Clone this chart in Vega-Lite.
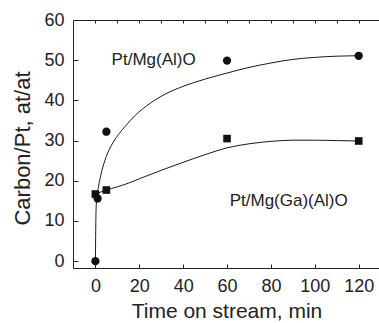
{
  "$schema": "https://vega.github.io/schema/vega-lite/v6.json",
  "width": 307,
  "height": 248,
  "autosize": "none",
  "padding": {"left": 73, "top": 20, "right": 0, "bottom": 55},
  "background": "white",
  "config": {
    "view": {"stroke": null},
    "font": "Liberation Sans",
    "axis": {
      "domainColor": "#222",
      "tickColor": "#222",
      "labelColor": "#222",
      "titleColor": "#222",
      "labelFont": "Liberation Sans",
      "titleFont": "Liberation Sans",
      "labelFontSize": 18,
      "titleFontSize": 21,
      "titleFontWeight": "normal",
      "grid": false,
      "domainWidth": 1,
      "tickWidth": 1
    }
  },
  "datasets": {
    "points": [
      {"series": "Pt/Mg(Al)O", "x": 0, "y": 0},
      {"series": "Pt/Mg(Al)O", "x": 1, "y": 15.6},
      {"series": "Pt/Mg(Al)O", "x": 5, "y": 32.2},
      {"series": "Pt/Mg(Al)O", "x": 60, "y": 49.9},
      {"series": "Pt/Mg(Al)O", "x": 120, "y": 51.1},
      {"series": "Pt/Mg(Ga)(Al)O", "x": 0, "y": 16.7},
      {"series": "Pt/Mg(Ga)(Al)O", "x": 5, "y": 17.7},
      {"series": "Pt/Mg(Ga)(Al)O", "x": 60, "y": 30.5},
      {"series": "Pt/Mg(Ga)(Al)O", "x": 120, "y": 29.9}
    ],
    "curves": [
      {"series": "Pt/Mg(Al)O", "x": 0, "y": 0},
      {"series": "Pt/Mg(Al)O", "x": 0.1, "y": 5},
      {"series": "Pt/Mg(Al)O", "x": 0.3, "y": 12.7},
      {"series": "Pt/Mg(Al)O", "x": 0.7, "y": 16},
      {"series": "Pt/Mg(Al)O", "x": 1.4, "y": 18.5},
      {"series": "Pt/Mg(Al)O", "x": 2.5, "y": 21.5},
      {"series": "Pt/Mg(Al)O", "x": 4.3, "y": 25},
      {"series": "Pt/Mg(Al)O", "x": 7, "y": 28.5},
      {"series": "Pt/Mg(Al)O", "x": 10.5, "y": 31.5},
      {"series": "Pt/Mg(Al)O", "x": 14, "y": 33.8},
      {"series": "Pt/Mg(Al)O", "x": 18, "y": 36.2},
      {"series": "Pt/Mg(Al)O", "x": 25, "y": 39.3},
      {"series": "Pt/Mg(Al)O", "x": 32, "y": 41.6},
      {"series": "Pt/Mg(Al)O", "x": 40, "y": 43.5},
      {"series": "Pt/Mg(Al)O", "x": 50, "y": 45.3},
      {"series": "Pt/Mg(Al)O", "x": 60, "y": 46.8},
      {"series": "Pt/Mg(Al)O", "x": 70, "y": 48.2},
      {"series": "Pt/Mg(Al)O", "x": 80, "y": 49.3},
      {"series": "Pt/Mg(Al)O", "x": 90, "y": 50.2},
      {"series": "Pt/Mg(Al)O", "x": 100, "y": 50.7},
      {"series": "Pt/Mg(Al)O", "x": 110, "y": 51},
      {"series": "Pt/Mg(Al)O", "x": 120, "y": 51.1},
      {"series": "Pt/Mg(Ga)(Al)O", "x": 0, "y": 16.7},
      {"series": "Pt/Mg(Ga)(Al)O", "x": 5, "y": 17.7},
      {"series": "Pt/Mg(Ga)(Al)O", "x": 10, "y": 18.5},
      {"series": "Pt/Mg(Ga)(Al)O", "x": 15, "y": 19.4},
      {"series": "Pt/Mg(Ga)(Al)O", "x": 20, "y": 20.5},
      {"series": "Pt/Mg(Ga)(Al)O", "x": 30, "y": 22.6},
      {"series": "Pt/Mg(Ga)(Al)O", "x": 40, "y": 24.6},
      {"series": "Pt/Mg(Ga)(Al)O", "x": 50, "y": 26.5},
      {"series": "Pt/Mg(Ga)(Al)O", "x": 60, "y": 28.2},
      {"series": "Pt/Mg(Ga)(Al)O", "x": 70, "y": 29.2},
      {"series": "Pt/Mg(Ga)(Al)O", "x": 80, "y": 29.8},
      {"series": "Pt/Mg(Ga)(Al)O", "x": 90, "y": 30.1},
      {"series": "Pt/Mg(Ga)(Al)O", "x": 100, "y": 30.1},
      {"series": "Pt/Mg(Ga)(Al)O", "x": 110, "y": 30},
      {"series": "Pt/Mg(Ga)(Al)O", "x": 120, "y": 29.9}
    ],
    "labels": [
      {"text": "Pt/Mg(Al)O", "x": 7.4, "y": 48.8},
      {"text": "Pt/Mg(Ga)(Al)O", "x": 61.2, "y": 13.7}
    ]
  },
  "layer": [
    {
      "data": {"name": "curves"},
      "mark": {"type": "line", "color": "#1a1a1a", "strokeWidth": 1, "interpolate": "monotone"},
      "encoding": {
        "x": {
          "field": "x", "type": "quantitative",
          "scale": {"domain": [-10.2, 129.7], "nice": false, "zero": false},
          "axis": {
            "orient": "bottom",
            "title": "Time on stream, min",
            "values": [0, 20, 40, 60, 80, 100, 120],
            "tickSize": -4,
            "labelPadding": 13,
            "titleBaseline": "alphabetic",
            "titleY": 49
          }
        },
        "y": {
          "field": "y", "type": "quantitative",
          "scale": {"domain": [-1.7, 60], "nice": false, "zero": false},
          "axis": {
            "title": "Carbon/Pt, at/at",
            "titleFontSize": 22,
            "values": [0, 5, 10, 15, 20, 25, 30, 35, 40, 45, 50, 55, 60],
            "labelExpr": "datum.value % 10 === 0 ? datum.label : ''",
            "tickSize": {"condition": {"test": "datum.value % 10 === 0", "value": -5}, "value": -3},
            "labelPadding": 14,
            "titleBaseline": "alphabetic",
            "titleX": -44,
            "titleY": 128,
            "titleAngle": -90
          }
        },
        "detail": {"field": "series"}
      }
    },
    {
      "data": {"name": "points"},
      "mark": {"type": "point", "filled": true, "opacity": 1, "color": "#111"},
      "encoding": {
        "x": {"field": "x", "type": "quantitative", "axis": null},
        "y": {"field": "y", "type": "quantitative"},
        "shape": {
          "field": "series", "type": "nominal",
          "scale": {"domain": ["Pt/Mg(Al)O", "Pt/Mg(Ga)(Al)O"], "range": ["circle", "square"]},
          "legend": null
        },
        "size": {
          "field": "series", "type": "nominal",
          "scale": {"domain": ["Pt/Mg(Al)O", "Pt/Mg(Ga)(Al)O"], "range": [68, 58]},
          "legend": null
        }
      }
    },
    {
      "data": {"name": "labels"},
      "mark": {"type": "text", "align": "left", "baseline": "alphabetic", "fontSize": 17, "font": "Liberation Sans", "color": "#222"},
      "encoding": {
        "x": {
          "field": "x", "type": "quantitative",
          "axis": {
            "orient": "top",
            "title": null,
            "labels": false,
            "values": [0, 10, 20, 30, 40, 50, 60, 70, 80, 90, 100, 110, 120],
            "tickSize": -3
          }
        },
        "y": {"field": "y", "type": "quantitative"},
        "text": {"field": "text"}
      }
    }
  ],
  "resolve": {"axis": {"x": "independent"}}
}
